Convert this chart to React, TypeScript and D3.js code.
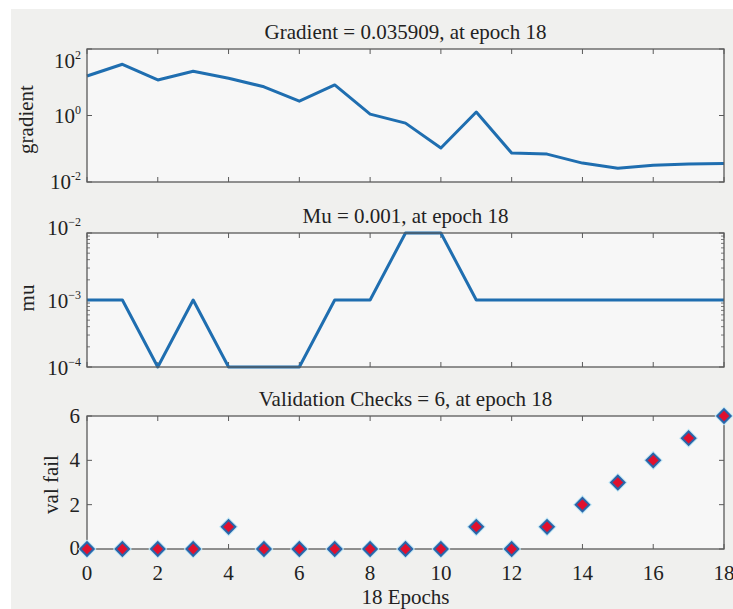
import React from 'react'
import * as d3 from 'd3'

// training record
const epochs = [0, 1, 2, 3, 4, 5, 6, 7, 8, 9, 10, 11, 12, 13, 14, 15, 16, 17, 18]
const gradient = [15.4, 34.7, 11.7, 21.3, 13.2, 7.3, 2.7, 8.3, 1.1, 0.59, 0.105, 1.27, 0.074, 0.069, 0.037, 0.026, 0.032, 0.035, 0.035909]
const mu = [1e-3, 1e-3, 1e-4, 1e-3, 1e-4, 1e-4, 1e-4, 1e-3, 1e-3, 1e-2, 1e-2, 1e-3, 1e-3, 1e-3, 1e-3, 1e-3, 1e-3, 1e-3, 1e-3]
const valFail = [0, 0, 0, 0, 1, 0, 0, 0, 0, 0, 0, 1, 0, 1, 2, 3, 4, 5, 6]
const xTicks = [0, 2, 4, 6, 8, 10, 12, 14, 16, 18]
const gradTicks = [{ v: 1e2, e: '2' }, { v: 1e0, e: '0' }, { v: 1e-2, e: '-2' }]
const muTicks = [{ v: 1e-2, e: '−2' }, { v: 1e-3, e: '−3' }, { v: 1e-4, e: '−4' }]
const valTicks = [0, 2, 4, 6]

const W = 733
const H = 609
const left = 87
const right = 724
const font = '"Liberation Serif", "DejaVu Serif", serif'
const lineColor = '#1f6eb0'
const boxColor = '#5a5a5a'
const fs = 21

const x = d3.scaleLinear().domain([0, 18]).range([left, right])

function Frame({ top, bottom, title, titleY }: { top: number; bottom: number; title: string; titleY: number }) {
  return (
    <g>
      <text x={(left + right) / 2} y={titleY} textAnchor="middle" fontSize={fs} fill="#222">{title}</text>
      <rect x={left} y={top} width={right - left} height={bottom - top} fill="#f7f7f7" />
      {xTicks.map(t => (
        <g key={t} stroke={boxColor} strokeWidth={1}>
          <line x1={x(t)} x2={x(t)} y1={top} y2={top + 5} />
          <line x1={x(t)} x2={x(t)} y1={bottom} y2={bottom - 5} />
        </g>
      ))}
    </g>
  )
}

function Box({ top, bottom }: { top: number; bottom: number }) {
  return <rect x={left} y={top} width={right - left} height={bottom - top} fill="none" stroke={boxColor} strokeWidth={1.3} />
}

export default function App() {
  // gradient panel
  const gTop = 49, gBot = 182
  const yg = d3.scaleLog().domain([1e-2, 1e2]).range([gBot, gTop])
  const gLine = d3.line<number>().x((_, i) => x(epochs[i])).y(d => yg(d))

  // mu panel
  const mTop = 233, mBot = 367
  const ym = d3.scaleLog().domain([1e-4, 1e-2]).range([mBot, mTop])
  const mLine = d3.line<number>().x((_, i) => x(epochs[i])).y(d => ym(d))
  const muMinor = ym.ticks().filter(t => !muTicks.some(m => Math.abs(m.v - t) < t * 1e-6))

  // validation panel
  const vTop = 416, vBot = 549
  const yv = d3.scaleLinear().domain([0, 6]).range([vBot, vTop])
  const diamond = d3.symbol().type(d3.symbolDiamond2).size(115)()

  return (
    <svg width={W} height={H} style={{ position: 'absolute', left: 0, top: 0 }} fontFamily={font}>
      <rect x={11} y={9} width={W - 11} height={H - 9} fill="#f0f0ee" />

      {/* gradient */}
      <Frame top={gTop} bottom={gBot} title="Gradient = 0.035909, at epoch 18" titleY={39} />
      {gradTicks.map(t => (
        <g key={t.e}>
          <line x1={left} x2={left + 5} y1={yg(t.v)} y2={yg(t.v)} stroke={boxColor} />
          <line x1={right} x2={right - 5} y1={yg(t.v)} y2={yg(t.v)} stroke={boxColor} />
          <text x={81} y={(t.v === 1e2 ? 61 : yg(t.v)) + 7} textAnchor="end" fontSize={fs} fill="#222">
            10<tspan dy={-9} fontSize={12}>{t.e}</tspan>
          </text>
        </g>
      ))}
      <path d={gLine(gradient) || ''} fill="none" stroke={lineColor} strokeWidth={3} strokeLinejoin="round" />
      <Box top={gTop} bottom={gBot} />
      <text transform={`translate(33,${(gTop + gBot) / 2 + 4}) rotate(-90)`} textAnchor="middle" fontSize={fs} fill="#222">gradient</text>

      {/* mu */}
      <Frame top={mTop} bottom={mBot} title="Mu = 0.001, at epoch 18" titleY={223} />
      {muMinor.map(t => (
        <g key={t} stroke={boxColor} strokeWidth={0.8}>
          <line x1={left} x2={left + 3} y1={ym(t)} y2={ym(t)} />
          <line x1={right} x2={right - 3} y1={ym(t)} y2={ym(t)} />
        </g>
      ))}
      {muTicks.map(t => (
        <g key={t.e}>
          <line x1={left} x2={left + 5} y1={ym(t.v)} y2={ym(t.v)} stroke={boxColor} />
          <line x1={right} x2={right - 5} y1={ym(t.v)} y2={ym(t.v)} stroke={boxColor} />
          <text x={81} y={ym(t.v) + (t.v === 1e-2 ? 2 : 8)} textAnchor="end" fontSize={fs} fill="#222">
            10<tspan dy={-9} fontSize={12}>{t.e}</tspan>
          </text>
        </g>
      ))}
      <path d={mLine(mu) || ''} fill="none" stroke={lineColor} strokeWidth={3} strokeLinejoin="round" />
      <Box top={mTop} bottom={mBot} />
      <text transform={`translate(34,${(mTop + mBot) / 2 - 2}) rotate(-90)`} textAnchor="middle" fontSize={fs} fill="#222">mu</text>

      {/* validation checks */}
      <Frame top={vTop} bottom={vBot} title="Validation Checks = 6, at epoch 18" titleY={406} />
      {valTicks.map(t => (
        <g key={t}>
          <line x1={left} x2={left + 5} y1={yv(t)} y2={yv(t)} stroke={boxColor} />
          <line x1={right} x2={right - 5} y1={yv(t)} y2={yv(t)} stroke={boxColor} />
          <text x={80} y={yv(t) + 7 - (t === 0 ? 1 : 0)} textAnchor="end" fontSize={fs} fill="#222">{t}</text>
        </g>
      ))}
      <Box top={vTop} bottom={vBot} />
      {valFail.map((v, i) => (
        <g key={i} transform={`translate(${x(epochs[i])},${yv(v)})`}>
          <path d={diamond || ''} fill="none" stroke="#bfe6f5" strokeWidth={4} />
          <path d={diamond || ''} fill="#e0102e" stroke="#2a64a8" strokeWidth={2} />
        </g>
      ))}
      {xTicks.map(t => (
        <text key={t} x={x(t)} y={580} textAnchor="middle" fontSize={fs} fill="#222">{t}</text>
      ))}
      <text x={(left + right) / 2} y={604} textAnchor="middle" fontSize={fs} fill="#222">18 Epochs</text>
      <text transform={`translate(58,${(vTop + vBot) / 2 + 2}) rotate(-90)`} textAnchor="middle" fontSize={fs} fill="#222">val fail</text>
    </svg>
  )
}
